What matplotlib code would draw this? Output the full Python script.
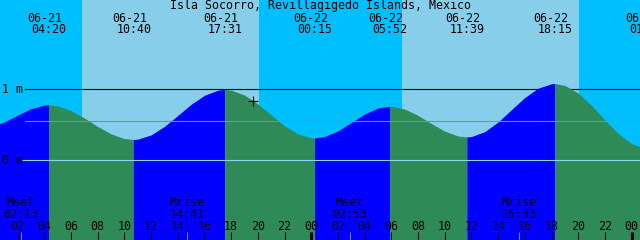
import numpy as np
import pandas as pd
import matplotlib
matplotlib.use("Agg")
import matplotlib.pyplot as plt

title = "Isla Socorro, Revillagigedo Islands, Mexico"

# tide events (high / low), heights in metres
event_times = ["06-21 04:20", "06-21 10:40", "06-21 17:31", "06-22 00:15",
               "06-22 05:52", "06-22 11:39", "06-22 18:15", "06-23 01:05"]
event_kinds = ["High", "Low", "High", "Low", "High", "Low", "High", "Low"]
event_heights = [0.769, 0.282, 0.986, 0.304, 0.751, 0.318, 1.070, 0.160]

# hourly heights from 06-21 00:00
hourly_heights = [0.461, 0.526, 0.623, 0.715, 0.766, 0.756, 0.690, 0.585, 0.466, 0.361,
                  0.295, 0.286, 0.346, 0.465, 0.619, 0.777, 0.904, 0.976, 0.977, 0.908,
                  0.782, 0.627, 0.475, 0.361, 0.306, 0.323, 0.403, 0.520, 0.640, 0.725,
                  0.750, 0.711, 0.621, 0.506, 0.399, 0.331, 0.323, 0.393, 0.529, 0.703,
                  0.874, 1.005, 1.067, 1.044, 0.934, 0.759, 0.555, 0.364, 0.223, 0.161]

sun_rise = ["06-21 06:52", "06-22 06:49"]
sun_set = ["06-21 20:07", "06-22 20:04"]

moon_times = ["06-21 02:13", "06-21 14:41", "06-22 02:53", "06-22 15:33"]
moon_kinds = ["Mset", "Mrise", "Mset", "Mrise"]

now_time = "06-21 19:40"
now_height = 0.83

hour_ticks = list(range(2, 49, 2))
hour_labels = ["%02d" % (h % 24) for h in hour_ticks]
midnights = [24, 48]
mean_level = 0.549

# colours
NIGHT = "#00bfff"
DAY = "#87ceeb"
RISE = "#0000ff"
FALL = "#2e8b57"

base = pd.to_datetime("06-21 00:00", format="%m-%d %H:%M")


def hrs(s):
    return (pd.to_datetime(s, format="%m-%d %H:%M") - base) / pd.Timedelta(hours=1)


PXH = 13.352          # pixels per hour
PXM = 71.0            # pixels per metre
t0 = 2 - 17.5 / PXH
t1 = t0 + 640 / PXH
ybot = (159.5 - 240) / PXM
ytop = 159.5 / PXM

fig = plt.figure(figsize=(6.4, 2.4), dpi=100)
ax = fig.add_axes([0, 0, 1, 1])
ax.set_xlim(t0, t1)
ax.set_ylim(ybot, ytop)
ax.axis("off")
fig.patch.set_facecolor(NIGHT)
ax.set_facecolor(NIGHT)

# daylight
for r, s in zip(sun_rise, sun_set):
    ax.axvspan(hrs(r), hrs(s), color=DAY, lw=0, zorder=0)

# 1 m line sits behind the water
ax.plot([t0 + 25 / PXH, t1], [1, 1], color="black", lw=0.8, zorder=1)

# tide curve: hourly readings plus the events
ev_t = np.array([hrs(s) for s in event_times])
tt = np.concatenate([np.arange(len(hourly_heights)), ev_t])
hh = np.concatenate([hourly_heights, event_heights])
order = np.argsort(tt)
tt, hh = tt[order], hh[order]

bounds = [tt[0]] + list(ev_t)
for i in range(len(ev_t)):
    a, b = bounds[i], bounds[i + 1]
    m = (tt >= a) & (tt <= b)
    col = RISE if event_kinds[i] == "High" else FALL
    ax.fill_between(tt[m], ybot, hh[m], color=col, lw=0, zorder=2)

# datum and mean lines
ax.plot([t0 + 22 / PXH, t1], [0, 0], color="#8fd3f0", lw=0.8, zorder=3)
ax.plot([t0 + 25 / PXH, t1], [mean_level, mean_level], color="#5fa08c", lw=0.8, zorder=3)

font = dict(family="DejaVu Sans Mono", fontsize=8.4, color="black")
xt = ax.get_xaxis_transform()


def fy(y):
    return 1 - y / 240.0


fig.text(0.5, fy(9), title, ha="center", va="baseline", **font)
fig.text(1.5 / 640, fy(92.5), "1 m", ha="left", va="baseline", **font)
fig.text(1.5 / 640, fy(163.5), "0 m", ha="left", va="baseline", **font)

for s, t in zip(event_times, ev_t):
    date, clock = s.split()
    ax.text(t - 3.7 / PXH, fy(22), date, transform=xt, ha="center", va="baseline", zorder=5, **font)
    ax.text(t + 0.5 / PXH, fy(33.3), clock, transform=xt, ha="center", va="baseline", zorder=5, **font)

for s, k in zip(moon_times, moon_kinds):
    t = hrs(s)
    ax.text(t, fy(206), k, transform=xt, ha="center", va="baseline", zorder=5, **font)
    ax.text(t, fy(218.3), s.split()[1], transform=xt, ha="center", va="baseline", zorder=5, **font)
    ax.vlines(t + 0.5 / PXH, 0, 8 / 240, transform=xt, color="#808080", lw=0.75, zorder=4)

for t, lab in zip(hour_ticks, hour_labels):
    ax.text(t, fy(230), lab, transform=xt, ha="center", va="baseline", zorder=5, **font)
    w = 2.2 if t in midnights else 0.75
    ax.vlines(t, 0, 8 / 240, transform=xt, color="black", lw=w, zorder=4)

ax.plot([hrs(now_time)], [now_height], marker="+", ms=7, mew=0.8, color="black", zorder=6)

fig.savefig("out.png", dpi=100, facecolor=NIGHT)
